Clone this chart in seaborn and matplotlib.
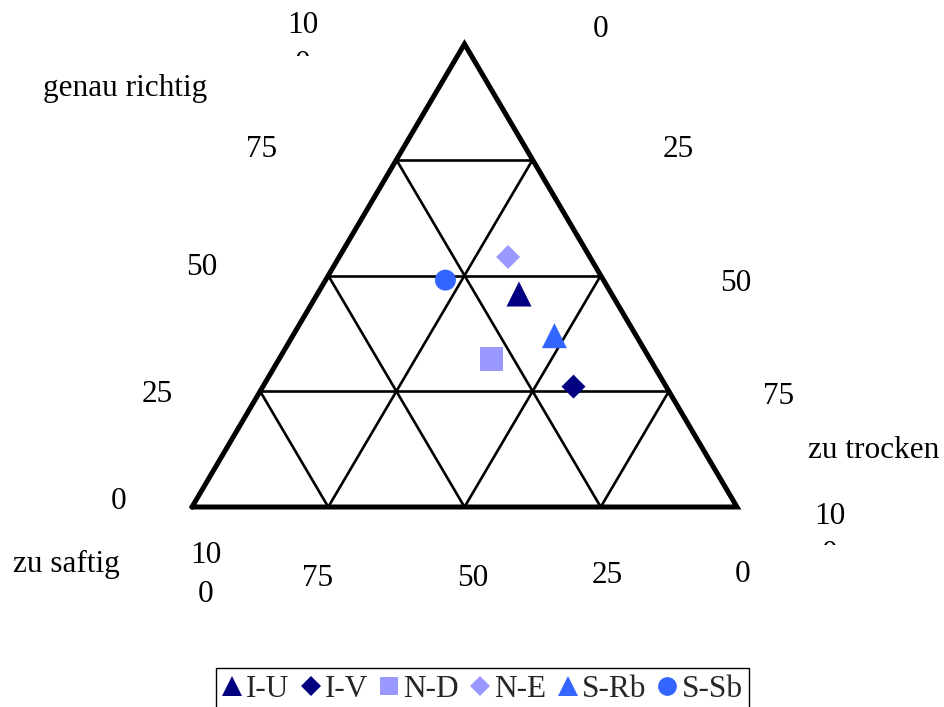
import matplotlib
matplotlib.use("Agg")
import matplotlib.pyplot as plt
from matplotlib.lines import Line2D
from matplotlib.transforms import Bbox, TransformedBbox
import pandas as pd
import seaborn as sns

# --- data: shares (%) of judgements per sample --------------------------
sorten        = ["I-U", "I-V", "N-D", "N-E", "S-Rb", "S-Sb"]
zu_saftig     = [17, 17, 29, 15, 15, 29]
genau_richtig = [46, 26, 32, 54, 37, 49]
zu_trocken    = [37, 57, 39, 31, 48, 22]

farben   = ["#000080", "#000080", "#9999FF", "#9999FF", "#3366FF", "#3366FF"]
symbole  = ["^", "D", "s", "D", "^", "o"]
flaechen = [324, 149, 282, 149, 324, 228]      # marker areas in pt^2
legend_ms = [14, 9.8, 13.5, 9.8, 14, 13.5]     # legend marker sizes in pt

gitter = [25, 50, 75]

sns.set_theme(style="white")
plt.rcParams["font.family"] = ["Liberation Serif", "DejaVu Serif"]
FS = 22.5

W, H = 944, 707
fig = plt.figure(figsize=(W / 100, H / 100), dpi=100)
ax = fig.add_axes([0, 0, 1, 1])

# triangle: left corner (0,0), right corner (1,0), apex (0.5,1)
ax.set_xlim(-192 / 545, (W - 192) / 545)
ax.set_ylim((507 - H) / 463, 507 / 463)
ax.set_axis_off()


def tern(trocken, richtig):
    """Cartesian position of a composition (shares of 100)."""
    t, r = trocken / 100.0, richtig / 100.0
    return t + r / 2.0, r


# inner grid lines
for g in gitter:
    # constant "genau richtig"
    a, b = tern(0, g), tern(100 - g, g)
    ax.plot([a[0], b[0]], [a[1], b[1]], color="black", lw=1.9, zorder=1)
    # constant "zu trocken"
    a, b = tern(g, 0), tern(g, 100 - g)
    ax.plot([a[0], b[0]], [a[1], b[1]], color="black", lw=1.9, zorder=1)
    # constant "zu saftig"
    a, b = tern(100 - g, 0), tern(0, 100 - g)
    ax.plot([a[0], b[0]], [a[1], b[1]], color="black", lw=1.9, zorder=1)

# outer frame
ecken = [tern(0, 0), tern(100, 0), tern(0, 100), tern(0, 0)]
ax.plot([p[0] for p in ecken], [p[1] for p in ecken], color="black",
        lw=3.6, solid_joinstyle="miter", zorder=2)

# samples
pos = [tern(t, r) for t, r in zip(zu_trocken, genau_richtig)]
df = pd.DataFrame({
    "Sorte": sorten,
    "x": [p[0] for p in pos],
    "y": [p[1] for p in pos],
})
sns.scatterplot(
    data=df, x="x", y="y", hue="Sorte", style="Sorte", size="Sorte",
    palette=dict(zip(sorten, farben)),
    markers=dict(zip(sorten, symbole)),
    sizes=dict(zip(sorten, flaechen)),
    linewidth=0, legend=False, ax=ax, zorder=5,
)


def px(x, y):
    return x / W, 1 - y / H


def label(x, y, s, **kw):
    return fig.text(*px(x, y), s, ha="center", va="baseline", fontsize=FS,
                    color="black", **kw)


# axis titles
label(125, 96, "genau richtig")
label(874, 458, "zu trocken")
label(66, 572, "zu saftig")

# genau richtig (left side, bottom to top)
label(119, 509, "0")
label(157, 402, "25")
label(202, 275, "50")
label(262, 157, "75")
t1 = label(303, 33, "10")
t2 = label(303, 72, "0")
t2.set_clip_box(TransformedBbox(Bbox.from_extents(0, 1 - 56 / H, 1, 1),
                                fig.transFigure))
t2.set_clip_on(True)

# zu trocken (right side, top to bottom)
label(601, 37, "0")
label(678, 157, "25")
label(736, 291, "50")
label(779, 404, "75")
label(830, 524, "10")
t3 = label(830, 562, "0")
t3.set_clip_box(TransformedBbox(Bbox.from_extents(0, 1 - 545 / H, 1, 1),
                                fig.transFigure))
t3.set_clip_on(True)

# zu saftig (bottom side, left to right)
label(206, 563, "10")
label(206, 602, "0")
label(318, 586, "75")
label(473, 586, "50")
label(607, 583, "25")
label(743, 582, "0")

# legend
handles = [Line2D([], [], linestyle="none", marker=m, color=c,
                  markersize=ms, markeredgewidth=0)
           for m, c, ms in zip(symbole, farben, legend_ms)]
leg = fig.legend(handles, sorten, loc="upper center",
                 bbox_to_anchor=(482.5 / W, 1 - 668 / H), ncol=6,
                 frameon=True, fancybox=False, shadow=False,
                 edgecolor="black", framealpha=1, fontsize=FS,
                 handlelength=0.6, handletextpad=0.15, columnspacing=0.38,
                 borderpad=0.22, borderaxespad=0)
leg.get_frame().set_linewidth(1.0)

fig.savefig("out.png", dpi=100)
